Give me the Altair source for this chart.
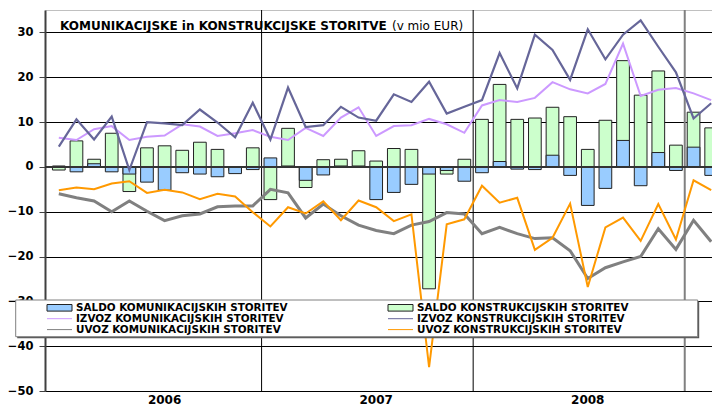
import altair as alt
import pandas as pd

# ---------------- data ----------------
n_months = 38  # Jan 2006 .. Feb 2009 (last months cut by the frame)
month_idx = list(range(n_months))
year_labels = ["2006", "2007", "2008"]

title_bold = "KOMUNIKACIJSKE in KONSTRUKCIJSKE STORITVE"
title_unit = "(v mio EUR)"

legend_names = [
    "SALDO KOMUNIKACIJSKIH STORITEV",
    "SALDO KONSTRUKCIJSKIH STORITEV",
    "IZVOZ KOMUNIKACIJSKIH STORITEV",
    "IZVOZ KONSTRUKCIJSKIH STORITEV",
    "UVOZ KOMUNIKACIJSKIH STORITEV",
    "UVOZ KONSTRUKCIJSKIH STORITEV",
]

saldo_kom = [0.2, -1.1, 0.7, -1.1, -1.6, -3.4, -5.2, -1.3, -1.6, -2.2, -1.5, -0.6,
             2.0, 0.2, -3.0, -1.8, 0.2, 0.2, -7.3, -5.7, -3.9, -1.6, -0.8, -3.2,
             -1.3, 1.2, -0.5, -0.6, 2.6, -1.9, -8.6, -4.8, 5.9, -4.2, 3.2, -0.8,
             4.4, -1.9]
saldo_kon = [-0.7, 5.8, 1.7, 7.5, -5.5, 4.25, 4.7, 3.7, 5.5, 3.9, -0.8, 4.25,
             -7.3, 8.6, -4.6, 1.6, 1.7, 3.6, 1.3, 4.1, 3.9, -27.2, -1.6, 1.7,
             10.6, 18.4, 10.6, 10.9, 13.3, 11.2, 3.9, 10.4, 23.7, 16.0, 21.4, 4.85,
             12.2, 8.7]
izvoz_kom = [6.5, 6.0, 8.4, 9.1, 6.0, 6.7, 7.0, 9.5, 9.0, 6.9, 7.5, 8.2,
             6.7, 6.0, 8.7, 6.9, 11.0, 13.3, 6.9, 9.1, 9.3, 10.7, 9.5, 7.6,
             13.7, 14.9, 14.5, 15.4, 18.9, 17.3, 16.4, 18.5, 27.5, 15.8, 17.2, 17.6,
             16.4, 14.9]
izvoz_kon = [4.5, 10.6, 6.1, 11.2, -0.7, 10.0, 9.7, 9.3, 12.8, 9.9, 6.6, 14.3,
             6.1, 17.7, 8.9, 9.3, 13.4, 11.0, 10.3, 16.2, 14.5, 19.0, 11.9, 13.4,
             14.9, 25.4, 17.5, 29.5, 26.1, 19.4, 30.7, 24.0, 29.5, 32.7, 26.8, 21.1,
             10.8, 14.2]
uvoz_kom = [-6.0, -6.9, -7.6, -10.0, -7.6, -9.9, -12.0, -10.9, -10.5, -8.9, -8.7, -8.7,
            -5.0, -5.8, -11.4, -8.3, -10.9, -13.0, -14.2, -14.9, -13.0, -12.2, -10.2, -10.5,
            -14.9, -13.5, -14.9, -16.0, -15.8, -18.7, -24.9, -22.5, -21.2, -20.0, -13.8, -18.4,
            -11.9, -16.7]
uvoz_kon = [-5.2, -4.6, -5.0, -3.7, -3.2, -5.8, -5.1, -5.7, -7.2, -6.0, -6.6, -10.1,
            -13.3, -9.0, -10.4, -7.7, -11.9, -7.5, -9.0, -12.1, -10.6, -44.7, -12.8, -11.7,
            -4.2, -8.0, -6.9, -18.5, -15.8, -8.2, -26.8, -13.5, -11.3, -16.5, -8.3, -16.2,
            -3.0, -5.2]

# ---------------- styles ----------------
FONT = "DejaVu Sans"
C_BLUE = "#99CCFF"
C_GREEN = "#CCFFCC"
C_LPURPLE = "#CC99FF"
C_DPURPLE = "#666699"
C_GRAY = "#808080"
C_ORANGE = "#FF9900"
series_colors = [C_BLUE, C_GREEN, C_LPURPLE, C_DPURPLE, C_GRAY, C_ORANGE]
series_widths = [1, 1, 2, 2.2, 3, 2]

MONTH_PX = 17.9
W, H = 667, 381
X_DOMAIN = [-0.5, -0.5 + W / MONTH_PX]
Y_DOMAIN = [-50, 35]

yaxis = alt.Axis(
    values=list(range(-50, 31, 10)), grid=True, gridColor="black", gridWidth=1,
    domainColor="#404040", domainWidth=2, tickColor="#404040", tickSize=6,
    tickWidth=1, labelFont=FONT, labelFontWeight="bold", labelFontSize=11.5,
    labelColor="black", labelPadding=6, title=None,
)


def X(field):
    return alt.X(field, type="quantitative",
                 scale=alt.Scale(domain=X_DOMAIN, nice=False, zero=False),
                 axis=None)


def Y(field):
    return alt.Y(field, type="quantitative",
                 scale=alt.Scale(domain=Y_DOMAIN, nice=False, zero=False),
                 axis=yaxis)


df = pd.DataFrame({
    "m": month_idx,
    "saldo_kom": saldo_kom, "saldo_kon": saldo_kon,
    "izvoz_kom": izvoz_kom, "izvoz_kon": izvoz_kon,
    "uvoz_kom": uvoz_kom, "uvoz_kon": uvoz_kon,
})

# year separators
df_sep = pd.DataFrame({"k": [1, 2, 3]})
sep = alt.Chart(df_sep).transform_calculate(
    b="datum.k * 12 - 0.5",
    kind="datum.k == 3 ? 'end' : 'in'",
).mark_rule().encode(
    x=X("b"),
    y=alt.value(0), y2=alt.value(H),
    color=alt.Color("kind:N", scale=alt.Scale(domain=["in", "end"], range=["black", "#808080"]), legend=None),
    strokeWidth=alt.StrokeWidth("kind:N", scale=alt.Scale(domain=["in", "end"], range=[1, 2]), legend=None),
)

base = alt.Chart(df)
bars_green = base.mark_bar(size=12.7, fill=C_GREEN, stroke="#222222", strokeWidth=1).encode(
    x=X("m"), y=Y("saldo_kon"))
bars_blue = base.mark_bar(size=12.7, fill=C_BLUE, stroke="#222222", strokeWidth=1).encode(
    x=X("m"), y=Y("saldo_kom"))

zero = alt.Chart(pd.DataFrame({"z": [0]})).mark_rule(color="#333333", strokeWidth=2).encode(
    y=Y("z"), x=alt.value(0), x2=alt.value(W))

l_izvoz_kom = base.mark_line(color=C_LPURPLE, strokeWidth=2).encode(x=X("m"), y=Y("izvoz_kom"))
l_izvoz_kon = base.mark_line(color=C_DPURPLE, strokeWidth=2.2).encode(x=X("m"), y=Y("izvoz_kon"))
l_uvoz_kom = base.mark_line(color=C_GRAY, strokeWidth=3).encode(x=X("m"), y=Y("uvoz_kom"))
l_uvoz_kon = base.mark_line(color=C_ORANGE, strokeWidth=2).encode(x=X("m"), y=Y("uvoz_kon"))

# title
t_bold = alt.Chart(pd.DataFrame({"t": [title_bold]})).mark_text(
    align="left", baseline="middle", font=FONT, fontWeight="bold", fontSize=12, color="black"
).encode(text="t:N", x=alt.value(15), y=alt.value(16))
t_unit = alt.Chart(pd.DataFrame({"t": [title_unit]})).mark_text(
    align="left", baseline="middle", font=FONT, fontWeight="normal", fontSize=12, color="black"
).encode(text="t:N", x=alt.value(347), y=alt.value(16))

# year labels
years = alt.Chart(pd.DataFrame({"year": year_labels, "k": [0, 1, 2]})).transform_calculate(
    pos="datum.k * 12 + 6"
).mark_text(baseline="middle", font=FONT, fontWeight="bold", fontSize=12, color="black").encode(
    x=X("pos"), y=alt.value(H + 9), text="year:N")

# legend (box + entries)
box_df = pd.DataFrame({"a": [0]})
box_shadow = alt.Chart(box_df).mark_rect(fill="#555555").encode(
    x=alt.value(-27.8), x2=alt.value(654.2), y=alt.value(291.5), y2=alt.value(328.2))
box = alt.Chart(box_df).mark_rect(fill="white", stroke="#808080", strokeWidth=1).encode(
    x=alt.value(-29.3), x2=alt.value(652.7), y=alt.value(290), y2=alt.value(326.7))

leg_df = pd.DataFrame({"name": legend_names, "i": list(range(len(legend_names)))})
leg = alt.Chart(leg_df).transform_calculate(
    col="datum.i % 2",
    row="floor(datum.i / 2)",
    sx="datum.col * 341 + 2",
    sx2="datum.col * 341 + 27",
    tx="datum.col * 341 + 31",
    ty="297.8 + datum.row * 10.9",
    ry1="datum.ty - 3.3",
    ry2="datum.ty + 3.3",
)
color_scale = alt.Scale(domain=legend_names, range=series_colors)
width_scale = alt.Scale(domain=legend_names, range=series_widths)
leg_rect = leg.transform_filter("datum.row == 0").mark_rect(stroke="#222222", strokeWidth=1).encode(
    x=alt.X("sx:Q", scale=None), x2="sx2:Q",
    y=alt.Y("ry1:Q", scale=None), y2="ry2:Q",
    fill=alt.Fill("name:N", scale=color_scale, legend=None),
)
leg_line = leg.transform_filter("datum.row > 0").mark_rule().encode(
    x=alt.X("sx:Q", scale=None), x2="sx2:Q",
    y=alt.Y("ty:Q", scale=None),
    color=alt.Color("name:N", scale=color_scale, legend=None),
    strokeWidth=alt.StrokeWidth("name:N", scale=width_scale, legend=None),
)
leg_text = leg.mark_text(align="left", baseline="middle", font=FONT, fontWeight="bold",
                         fontSize=10.4, color="black").encode(
    x=alt.X("tx:Q", scale=None), y=alt.Y("ty:Q", scale=None), text="name:N")

chart = alt.layer(
    sep, bars_green, bars_blue, zero,
    l_izvoz_kom, l_izvoz_kon, l_uvoz_kom, l_uvoz_kon,
    t_bold, t_unit, years,
    box_shadow, box, leg_rect, leg_line, leg_text,
).resolve_scale(color="independent", strokeWidth="independent").properties(
    width=W, height=H,
    padding={"left": 37, "top": 2, "right": 0, "bottom": 17},
    autosize=alt.AutoSizeParams(type="none"),
    background="white",
).configure_view(stroke="#c0c0c0", strokeWidth=1)

chart.save("out.html", embed_options={"renderer": "svg", "actions": False})
